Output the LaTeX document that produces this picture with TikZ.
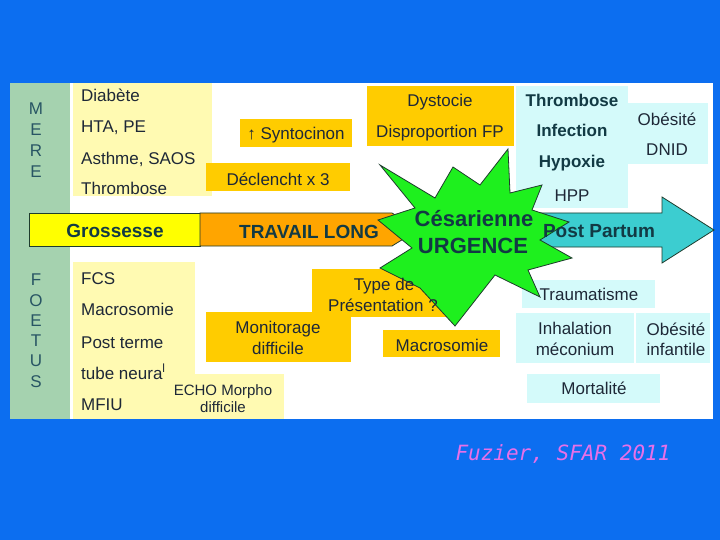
\documentclass[tikz,border=0pt]{standalone}
\usepackage{fontspec}
\setmainfont{Liberation Sans}
\newfontfamily\citefont{DejaVu Sans Mono}

\definecolor{bgblue}{RGB}{12,110,240}
\definecolor{colgreen}{RGB}{165,210,175}
\definecolor{paleyel}{RGB}{255,250,178}
\definecolor{gold}{RGB}{255,204,0}
\definecolor{palecyan}{RGB}{212,250,250}
\definecolor{bandyel}{RGB}{255,255,0}
\definecolor{bandorng}{RGB}{255,165,0}
\definecolor{ppcyan}{RGB}{60,205,208}
\definecolor{stargreen}{RGB}{30,240,30}
\definecolor{outl}{RGB}{30,60,45}
\definecolor{txtc}{RGB}{30,40,55}
\definecolor{boldc}{RGB}{18,58,68}
\definecolor{sidec}{RGB}{40,85,100}
\definecolor{citec}{RGB}{232,112,232}

\begin{document}
\begin{tikzpicture}[x=1pt, y=-1pt,
  lbl/.style={inner sep=0, anchor=base, text=txtc, font=\fontsize{17}{20}\selectfont},
  lft/.style={lbl, anchor=base west},
  bld/.style={lbl, text=boldc, font=\fontsize{17}{20}\selectfont\bfseries},
  band/.style={lbl, text=boldc, font=\fontsize{19}{22}\selectfont\bfseries},
  side/.style={lbl, text=sidec}]

\useasboundingbox (0,0) rectangle (720,540);
\fill [bgblue] (0,0) rectangle (720,540);
\fill [white] (10,83) rectangle (713,419);
\fill [colgreen] (10,83) rectangle (70,419);

% pale yellow: risques mere / foetus
\begin{scope}[paleyel]
\fill (73,83) rectangle (212,196);
\fill (73,262) rectangle (195,419);
\fill (168,374) rectangle (284,419);
\end{scope}

% gold: travail
\begin{scope}[gold]
\fill (240,119) rectangle (352,147);
\fill (206,163) rectangle (350,191);
\fill (367,86) rectangle (514,146);
\fill (312,269) rectangle (450,317);
\fill (206,312) rectangle (351,362);
\fill (383,330) rectangle (500,357);
\end{scope}

% pale cyan: post partum
\begin{scope}[palecyan]
\fill (516,86) rectangle (628,208);
\fill (628,103) rectangle (708,164);
\fill (522,280) rectangle (655,308);
\fill (516,313) rectangle (634,363);
\fill (636,313) rectangle (710,363);
\fill (527,374) rectangle (660,403);
\end{scope}

% bande du temps
\begin{scope}[draw=outl, line width=0.8pt]
\filldraw [fill=bandyel] (29,213) rectangle (200,246);
\filldraw [fill=bandorng] (200,213) -- (392,213) -- (418,230) -- (392,246) -- (200,246) -- cycle;
\filldraw [fill=ppcyan] (540,213) -- (662,213) -- (662,197) -- (714,230) -- (662,263) -- (662,247) -- (540,247) -- cycle;

\filldraw [fill=stargreen] (380,165) -- (435,198) -- (453,167) -- (480,185) -- (508,149) -- (510,193)
  -- (542,185) -- (532,210) -- (569,222) -- (540,240) -- (572,258) -- (528,270) -- (540,297)
  -- (495,275) -- (455,326) -- (420,288) -- (380,268) -- (412,248) -- (378,220) -- (415,208) -- cycle;
\end{scope}

% M E R E
\node [side] (m1) at (36,115) {M};
\node [side] (m2) at (36,136) {E};
\node [side] (m3) at (36,157) {R};
\node [side] (m4) at (36,178) {E};

% F O E T U S
\node [side] (f1) at (36,285) {F};
\node [side] (f2) at (36,306) {O};
\node [side] (f3) at (36,326) {E};
\node [side] (f4) at (36,346) {T};
\node [side] (f5) at (36,366) {U};
\node [side] (f6) at (36,387) {S};

\node [lft] (diab) at (81,102) {Diabète};
\node [lft] (hta) at (81,133) {HTA, PE};
\node [lft] (asth) at (81,165) {Asthme, SAOS};
\node [lft] (thrm) at (81,195) {Thrombose};

\node [lft] (fcs) at (81,284) {FCS};
\node [lft] (macf) at (81,315) {Macrosomie};
\node [lft] (post) at (81,348) {Post terme};
\node [lft] (tube) at (81,379) {tube neura\textsuperscript{l}};
\node [lft] (mfiu) at (81,410) {MFIU};
\node [lbl, font=\fontsize{15}{18}\selectfont] (echo) at (223,395) {ECHO Morpho};
\node [lbl, font=\fontsize{15}{18}\selectfont] (echod) at (223,412) {difficile};

\node [lbl] (synt) at (296,140) {↑ Syntocinon};
\node [lbl] (decl) at (278,186) {Déclencht x 3};
\node [lbl] (dyst) at (440,107) {Dystocie};
\node [lbl] (disp) at (440,138) {Disproportion FP};
\node [lbl] (type) at (384,290) {Type de};
\node [lbl] (pres) at (383,311) {Présentation ?};
\node [lbl] (moni) at (278,333) {Monitorage};
\node [lbl] (monid) at (278,354) {difficile};
\node [lbl] (macr) at (442,351) {Macrosomie};

\node [bld] (thr) at (572,107) {Thrombose};
\node [bld] (inf) at (572,137) {Infection};
\node [bld] (hyp) at (572,168) {Hypoxie};
\node [lbl] (hpp) at (572,202) {HPP};
\node [lbl] (obe) at (667,126) {Obésité};
\node [lbl] (dnid) at (667,156) {DNID};

\node [lbl] (trau) at (589,300) {Traumatisme};
\node [lbl] (inha) at (575,334) {Inhalation};
\node [lbl] (meco) at (575,355) {méconium};
\node [lbl] (obei) at (676,335) {Obésité};
\node [lbl] (infa) at (676,355) {infantile};
\node [lbl] (mort) at (594,394) {Mortalité};

\node [band] (gros) at (115,237) {Grossesse};
\node [band] (trav) at (309,238) {TRAVAIL LONG};
\node [band] (ppar) at (599,237) {Post Partum};
\node [band, font=\fontsize{22}{26}\selectfont\bfseries] (ces) at (474,226) {Césarienne};
\node [band, font=\fontsize{22}{26}\selectfont\bfseries] (urg) at (473,253) {URGENCE};

\node [lbl, text=citec, font=\citefont\itshape\fontsize{21}{24}\selectfont] (cite) at (563,460) {Fuzier, SFAR 2011};

\end{tikzpicture}
\end{document}
